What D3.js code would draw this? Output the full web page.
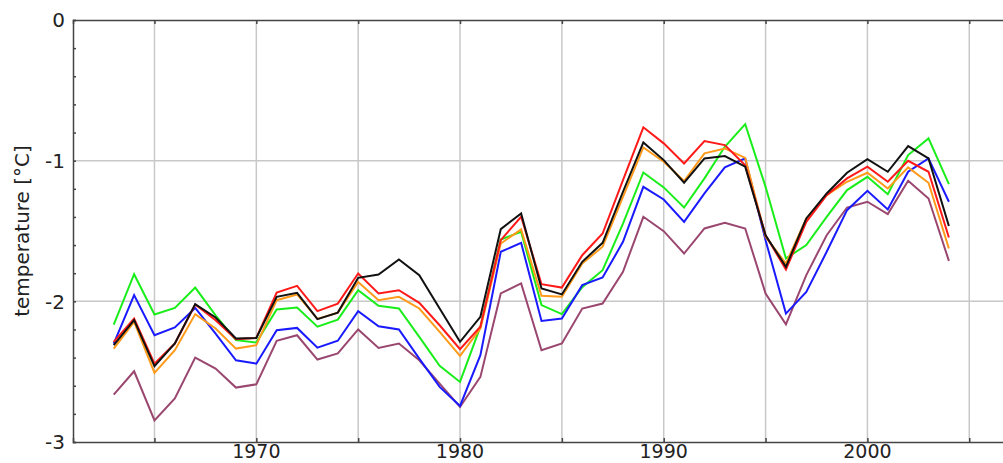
<!DOCTYPE html>
<html>
<head>
<meta charset="utf-8">
<script src="https://cdn.jsdelivr.net/npm/d3@7"></script>
<style>
  body { margin: 0; background: #fff; }
  text { font-family: "DejaVu Sans", sans-serif; fill: #222; }
</style>
</head>
<body>
<div id="chart"></div>
<script>
var years = d3.range(1963, 2005);

var green = [-2.165, -1.807, -2.094, -2.047, -1.902, -2.10, -2.276, -2.293, -2.058, -2.044, -2.18, -2.13, -1.921, -2.032, -2.051, -2.253, -2.459, -2.573, -2.18, -1.56, -1.506, -2.027, -2.091, -1.90, -1.779, -1.447, -1.084, -1.19, -1.333, -1.126, -0.901, -0.74, -1.186, -1.695, -1.60, -1.399, -1.209, -1.115, -1.238, -0.96, -0.842, -1.167];
var blue = [-2.30, -1.956, -2.241, -2.186, -2.047, -2.229, -2.419, -2.443, -2.205, -2.189, -2.329, -2.28, -2.07, -2.177, -2.20, -2.407, -2.608, -2.744, -2.383, -1.648, -1.584, -2.139, -2.122, -1.885, -1.831, -1.577, -1.186, -1.276, -1.435, -1.233, -1.048, -0.984, -1.565, -2.087, -1.933, -1.648, -1.352, -1.214, -1.347, -1.079, -0.984, -1.292];
var red = [-2.288, -2.122, -2.443, -2.30, -2.023, -2.134, -2.27, -2.26, -1.937, -1.89, -2.07, -2.016, -1.802, -1.944, -1.921, -2.011, -2.17, -2.34, -2.18, -1.565, -1.399, -1.878, -1.902, -1.672, -1.518, -1.138, -0.763, -0.877, -1.02, -0.861, -0.889, -1.032, -1.53, -1.774, -1.435, -1.245, -1.126, -1.043, -1.15, -1.001, -1.079, -1.546];
var orange = [-2.336, -2.146, -2.509, -2.348, -2.091, -2.193, -2.336, -2.312, -1.992, -1.951, -2.125, -2.08, -1.862, -1.992, -1.968, -2.051, -2.217, -2.388, -2.193, -1.589, -1.489, -1.961, -1.968, -1.731, -1.612, -1.257, -0.906, -1.008, -1.145, -0.948, -0.913, -0.98, -1.541, -1.731, -1.411, -1.245, -1.15, -1.086, -1.198, -1.048, -1.157, -1.624];
var black = [-2.312, -2.134, -2.461, -2.30, -2.02, -2.115, -2.264, -2.26, -1.968, -1.94, -2.127, -2.08, -1.833, -1.81, -1.703, -1.814, -2.051, -2.288, -2.11, -1.487, -1.375, -1.909, -1.951, -1.719, -1.584, -1.221, -0.87, -0.996, -1.157, -0.984, -0.967, -1.043, -1.53, -1.755, -1.411, -1.233, -1.086, -0.989, -1.079, -0.896, -0.984, -1.465];
var purple = [-2.663, -2.497, -2.846, -2.691, -2.40, -2.478, -2.613, -2.59, -2.281, -2.241, -2.414, -2.37, -2.2, -2.331, -2.30, -2.419, -2.585, -2.751, -2.537, -1.944, -1.873, -2.348, -2.30, -2.051, -2.016, -1.79, -1.399, -1.501, -1.66, -1.482, -1.442, -1.482, -1.944, -2.163, -1.814, -1.53, -1.333, -1.292, -1.38, -1.143, -1.269, -1.712];

var xTickLabels = [1970, 1980, 1990, 2000];
var yTickLabels = [0, -1, -2, -3];

var svgWidth = 1003, svgHeight = 463;
var margin = {top: 20, left: 73, bottom: 21};
var width = 937;
var height = svgHeight - margin.top - margin.bottom;

var svg = d3.select("#chart").append("svg")
  .attr("width", svgWidth)
  .attr("height", svgHeight);

var chartGroup = svg.append("g")
  .attr("transform", `translate(${margin.left}, ${margin.top})`);

var xScale = d3.scaleLinear().domain([1961, 2007]).range([0, width]);
var yScale = d3.scaleLinear().domain([-3, 0]).range([height, 0]);

// grid
var gridX = d3.range(1965, 2007, 5);
chartGroup.selectAll(".gx").data(gridX).enter().append("line")
  .attr("x1", d => xScale(d)).attr("x2", d => xScale(d))
  .attr("y1", 0).attr("y2", height)
  .attr("stroke", "#c8c8c8").attr("stroke-width", 1.5);
chartGroup.selectAll(".gy").data([-1, -2]).enter().append("line")
  .attr("x1", 0).attr("x2", width)
  .attr("y1", d => yScale(d)).attr("y2", d => yScale(d))
  .attr("stroke", "#c8c8c8").attr("stroke-width", 1.5);

// lines
var series = [
  {values: purple, color: "#9a4770"},
  {values: green, color: "#1aee1a"},
  {values: blue, color: "#1a1aff"},
  {values: orange, color: "#ff9a1a"},
  {values: red, color: "#ff1a1a"},
  {values: black, color: "#111111"}
];

var line = d3.line()
  .x((d, i) => xScale(years[i]))
  .y(d => yScale(d));

chartGroup.selectAll(".series").data(series).enter().append("path")
  .attr("d", d => line(d.values))
  .attr("fill", "none")
  .attr("stroke", d => d.color)
  .attr("stroke-width", 2)
  .attr("stroke-linejoin", "miter");

// axes
var axisColor = "#444";
var bottomAxis = d3.axisBottom(xScale).tickValues(gridX).tickSize(-4).tickFormat("");
var topAxis = d3.axisTop(xScale).tickValues(gridX).tickSize(-4).tickFormat("");
var leftAxis = d3.axisLeft(yScale).tickValues(d3.range(-3, 0.01, 0.2)).tickSize(-3).tickFormat("");

[
  chartGroup.append("g").attr("transform", `translate(0, ${height})`).call(bottomAxis),
  chartGroup.append("g").call(topAxis),
  chartGroup.append("g").call(leftAxis)
].forEach(function(g) {
  g.select(".domain").attr("stroke", axisColor).attr("stroke-width", 1.5);
  g.selectAll(".tick line").attr("stroke", axisColor).attr("stroke-width", 1.5);
});

chartGroup.selectAll(".xl").data(xTickLabels).enter().append("text")
  .attr("x", d => xScale(d))
  .attr("y", height + 15.5)
  .attr("text-anchor", "middle")
  .style("font-size", "19px")
  .text(d => d);

chartGroup.selectAll(".yl").data(yTickLabels).enter().append("text")
  .attr("x", -8)
  .attr("y", d => yScale(d))
  .attr("dy", "0.36em")
  .attr("text-anchor", "end")
  .style("font-size", "20px")
  .text(d => d);

chartGroup.append("text")
  .attr("transform", "rotate(-90)")
  .attr("x", -(231 - margin.top))
  .attr("y", 29 - margin.left)
  .attr("text-anchor", "middle")
  .style("font-size", "20px")
  .text("temperature [°C]");
</script>
</body>
</html>
